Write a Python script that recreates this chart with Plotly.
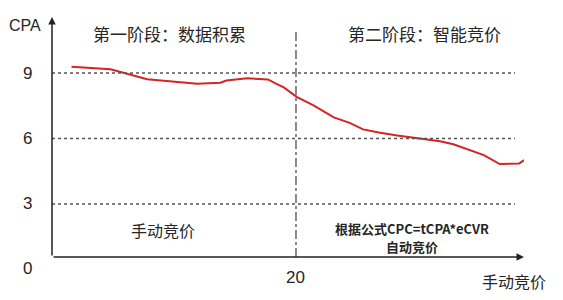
import plotly.graph_objects as go

# Data
bids = [1.6, 4.8, 7.8, 9.9, 11.9, 13.8, 14.3, 16.0, 17.7, 18.4, 19.0, 20.05, 21.4, 23.1,
        24.4, 25.5, 26.9, 28.3, 30.4, 31.8, 32.9, 34.3, 35.4, 36.7, 38.3, 38.7]
cpa = [9.29, 9.17, 8.72, 8.62, 8.51, 8.56, 8.66, 8.76, 8.71, 8.50, 8.34, 7.91, 7.53, 6.97,
       6.72, 6.42, 6.26, 6.14, 5.99, 5.88, 5.74, 5.47, 5.24, 4.83, 4.86, 5.01]
y_ticks = [3, 6, 9]
x_split = 20
phase_titles = ["第一阶段：数据积累", "第二阶段：智能竞价"]
phase_notes = ["手动竞价", "根据公式CPC=tCPA*eCVR", "自动竞价"]

X0, X1 = 0, 38.69
Y0, Y1 = 0.57, 11.57
GRID_END = 37.95

CJK = "Noto Sans CJK SC"
LAT = "Liberation Sans, Arial"
TXT = "#262626"

fig = go.Figure()
fig.add_trace(go.Scatter(x=bids, y=cpa, mode="lines",
                         line=dict(color="#D42424", width=2), cliponaxis=False,
                         hoverinfo="skip"))

shapes = []
for v in y_ticks:
    shapes.append(dict(type="line", x0=X0, x1=GRID_END, y0=v, y1=v, xref="x", yref="y",
                       line=dict(color="#555555", width=1.5, dash="dot")))
shapes.append(dict(type="line", x0=x_split, x1=x_split, y0=Y0, y1=11.02, xref="x", yref="y",
                   line=dict(color="#666666", width=1.5, dash="dashdot")))

ann = []
# axes with arrows
ann.append(dict(x=X0, y=Y1, ax=X0, ay=Y0, xref="x", yref="y", axref="x", ayref="y",
                showarrow=True, arrowhead=2, arrowsize=1, arrowwidth=1.5, arrowcolor="#222222", text=""))
ann.append(dict(x=X1, y=Y0, ax=X0, ay=Y0, xref="x", yref="y", axref="x", ayref="y",
                showarrow=True, arrowhead=2, arrowsize=1, arrowwidth=1.5, arrowcolor="#222222", text=""))
# tick labels
for v in y_ticks + [0]:
    yy = v if v else Y0
    ann.append(dict(x=X0, y=yy, xref="x", yref="y", text=str(v), showarrow=False,
                    xshift=-25, yshift=(-11 if v == 0 else 0),
                    font=dict(family=LAT, size=17, color=TXT)))
ann.append(dict(x=x_split, y=Y0, xref="x", yref="y", text=str(x_split), showarrow=False,
                yshift=-20, font=dict(family=LAT, size=17, color=TXT)))
ann.append(dict(x=X0, y=Y1, xref="x", yref="y", text="CPA", showarrow=False,
                xshift=-27, yshift=-8, font=dict(family=LAT, size=16, color=TXT)))
ann.append(dict(x=X1, y=Y0, xref="x", yref="y", text="手动竞价", showarrow=False,
                xshift=-10, yshift=-24, font=dict(family=CJK, size=16, color=TXT)))
# phase titles
ann.append(dict(x=9.6, y=Y1, xref="x", yref="y", text=phase_titles[0], showarrow=False,
                yshift=-16, font=dict(family=CJK, size=17, color=TXT)))
ann.append(dict(x=30.5, y=Y1, xref="x", yref="y", text=phase_titles[1], showarrow=False,
                yshift=-16, font=dict(family=CJK, size=17, color=TXT)))
# notes
ann.append(dict(x=9.1, y=1.8, xref="x", yref="y", text=phase_notes[0], showarrow=False,
                font=dict(family=CJK, size=16, color=TXT)))
ann.append(dict(x=29.5, y=1.8, xref="x", yref="y", text="<b>" + phase_notes[1] + "</b>",
                showarrow=False, yshift=2, borderpad=0,
                font=dict(family=CJK, size=13, color=TXT)))
ann.append(dict(x=29.5, y=1.8, xref="x", yref="y", text="<b>" + phase_notes[2] + "</b>",
                showarrow=False, yshift=-16, borderpad=0,
                font=dict(family=CJK, size=13, color=TXT)))

fig.update_layout(
    width=563, height=300,
    margin=dict(l=52, r=39, t=17, b=43),
    paper_bgcolor="white", plot_bgcolor="white",
    showlegend=False,
    xaxis=dict(range=[X0, X1], visible=False, fixedrange=True),
    yaxis=dict(range=[Y0, Y1], visible=False, fixedrange=True),
    shapes=shapes, annotations=ann,
)
fig.write_html("out.html")
